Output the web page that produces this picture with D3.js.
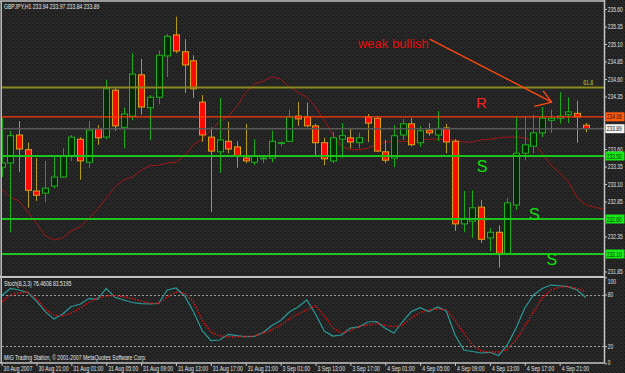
<!DOCTYPE html>
<html><head><meta charset="utf-8">
<script src="https://cdnjs.cloudflare.com/ajax/libs/d3/7.8.5/d3.min.js"></script>
<style>html,body{margin:0;padding:0;background:#222;overflow:hidden}</style>
</head><body><svg id="c" width="625" height="373"></svg>
<script>
// ---------- data ----------
const openP = [233.34,233.40,233.80,233.59,233.00,232.97,233.07,233.20,233.50,233.74,
233.41,233.89,233.77,234.44,233.91,234.07,234.66,234.19,234.34,234.93,
235.23,234.99,234.86,234.27,233.77,233.56,233.71,233.63,233.47,233.41,
233.46,233.47,233.68,233.71,234.07,234.06,233.93,233.69,233.43,233.74,
233.76,233.69,234.06,234.04,233.56,233.47,233.80,233.96,233.69,233.87,
233.80,233.90,233.71,232.53,232.57,232.77,232.33,232.41,232.11,232.80,
233.54,233.64,233.83,234.01,234.04,234.09,234.11,233.94];
const highP = [234.04,233.86,234.00,233.69,233.47,233.43,233.50,233.61,233.80,233.77,
234.00,233.94,234.59,234.47,234.19,234.97,234.89,234.37,235.01,235.24,
235.49,235.17,234.94,234.37,233.91,234.33,233.99,233.71,233.96,233.74,
233.49,233.86,233.71,234.16,234.27,234.26,233.96,233.76,233.84,233.97,
233.89,233.83,234.10,234.07,233.73,233.94,234.03,234.04,233.93,233.97,
234.14,233.96,233.74,233.00,233.01,232.87,232.47,232.51,232.90,234.06,
234.06,234.09,234.20,234.16,234.41,234.34,234.29,233.97];
const lowP = [233.20,232.41,233.27,232.76,232.86,232.84,233.04,233.19,233.43,233.16,
233.33,233.66,233.74,233.86,233.61,234.01,234.09,233.73,234.24,234.63,
234.97,234.40,234.33,233.70,232.70,233.26,233.54,233.33,233.40,233.37,
233.40,233.41,233.64,233.70,233.93,233.91,233.51,233.37,233.40,233.47,
233.61,233.61,233.70,233.56,233.40,233.34,233.73,233.64,233.63,233.79,
233.71,233.54,232.43,232.41,232.33,232.26,232.14,231.91,232.10,232.73,
233.44,233.54,233.77,233.83,233.96,233.97,233.69,233.84];
const closeP = [233.40,233.79,233.60,233.01,232.94,233.04,233.20,233.50,233.77,233.43,
233.87,233.76,234.46,233.93,234.10,234.67,234.20,234.34,234.94,235.21,
235.00,234.80,234.46,233.80,233.57,233.73,233.60,233.50,233.43,233.50,
233.47,233.71,233.69,234.06,234.03,233.93,233.69,233.46,233.76,233.79,
233.70,233.76,233.97,233.57,233.44,233.79,233.96,233.66,233.86,233.83,
233.89,233.70,232.53,232.60,232.76,232.31,232.41,232.11,232.83,233.54,
233.66,233.83,234.04,234.04,234.07,234.13,234.06,233.89];
const maValues = [233.03,232.91,232.86,232.70,232.54,232.36,232.30,232.33,232.43,232.49,
232.61,232.74,232.90,233.06,233.16,233.20,233.30,233.36,233.37,233.40,
233.41,233.51,233.66,233.74,233.87,233.99,234.07,234.21,234.41,234.53,
234.57,234.63,234.60,234.49,234.41,234.34,234.20,234.01,233.80,233.64,
233.59,233.59,233.61,233.67,233.70,233.71,233.71,233.71,233.73,233.74,
233.74,233.73,233.73,233.70,233.70,233.73,233.74,233.76,233.77,233.77,
233.76,233.69,233.54,233.37,233.26,233.13,232.91,232.80,232.77,232.74];
const stochMain = [78.6,87.0,85.2,82.3,72.4,60.0,51.5,57.3,66.0,68.6,
75.3,74.4,87.0,76.7,73.6,70.7,69.5,69.0,69.5,85.2,
87.6,78.3,60.0,38.1,26.5,27.1,33.7,32.1,30.9,31.4,
35.8,44.0,49.8,59.7,65.5,73.6,57.3,37.6,31.7,32.9,
41.0,42.4,48.0,48.6,40.7,35.2,48.6,60.2,64.7,60.2,
65.5,60.8,32.9,15.5,13.7,12.0,12.8,9.1,21.3,41.0,
64.3,79.4,87.0,91.0,90.2,89.1,85.2,76.46];
const stochSignal = [71.3,79.4,81.7,82.9,74.8,62.6,56.2,55.0,58.5,64.0,
70.7,75.9,78.3,78.8,77.4,75.3,72.4,69.8,69.8,77.1,
82.9,81.7,71.6,50.3,36.4,31.7,30.9,30.9,31.2,31.7,
35.2,38.7,44.5,51.5,57.3,62.0,67.2,55.6,41.0,35.2,
38.1,42.8,44.5,46.5,44.0,42.8,44.5,52.7,59.1,62.0,
63.1,62.0,50.3,35.2,21.3,14.3,13.1,13.1,16.0,27.1,
43.4,59.7,75.9,85.2,88.7,89.1,87.0,83.52];
const priceTicks = [231.85,232.10,232.35,232.60,232.85,233.10,233.35,233.60,233.85,234.10,234.35,234.60,234.85,235.10,235.35,235.60];
const timeLabels = ["30 Aug 2007","30 Aug 21:00","31 Aug 01:00","31 Aug 05:00","31 Aug 09:00","31 Aug 13:00","31 Aug 17:00","31 Aug 21:00","3 Sep 01:00","3 Sep 13:00","3 Sep 17:00","4 Sep 01:00","4 Sep 05:00","4 Sep 09:00","4 Sep 13:00","4 Sep 17:00","4 Sep 21:00"];
const timeLabelBars = [0,4,8,12,16,20,24,28,32,36,40,44,48,52,56,60,64];
const fibLevel = 234.48;
const resistanceLevel = 234.06;
const bidLevel = 233.89;
const supportLevels = [233.50,232.60,232.10];
const stochLevels = [20,80];
const stochTicks = [0,20,80,100];
const titleText = "GBPJPY,H1  233.94 233.97 233.84 233.89";
const stochText = "Stoch(8,3,3) 76.4608 83.5195";
const copyrightText = "MIG Trading Station, \u00a9 2001-2007 MetaQuotes Software Corp.";

// ---------- scales ----------
const svg = d3.select('#c');
const x = d3.scaleLinear().domain([0,67]).range([1.6,585.8]);
const y = d3.scaleLinear().domain([232.10,235.60]).range([254,9]);
const ys = d3.scaleLinear().domain([0,100]).range([363.3,277.3]);
const PX0=2, PX1=604.5, PY0=1.5, PY1=276, SY0=278, SY1=363;

const defs = svg.append('defs');
const pat = defs.append('pattern').attr('id','bg').attr('width',4).attr('height',4).attr('patternUnits','userSpaceOnUse');
pat.append('rect').attr('width',4).attr('height',4).attr('fill','#262626');
pat.append('rect').attr('x',0).attr('y',0).attr('width',1).attr('height',1).attr('fill','#141414');
pat.append('rect').attr('x',2).attr('y',2).attr('width',1).attr('height',1).attr('fill','#141414');
pat.append('rect').attr('x',1).attr('y',3).attr('width',1).attr('height',1).attr('fill','#2f2f2f');
defs.append('clipPath').attr('id','cm').append('rect').attr('x',PX0).attr('y',PY0).attr('width',PX1-PX0).attr('height',PY1-PY0);
defs.append('clipPath').attr('id','cs').append('rect').attr('x',PX0).attr('y',SY0).attr('width',PX1-PX0).attr('height',SY1-SY0);

svg.append('rect').attr('width',625).attr('height',373).attr('fill','url(#bg)');

// horizontally condense small MT4-style text (keeps left anchor fixed)
function squeeze(sel,f){
  const k = f||0.73;
  sel.each(function(){
    const s = d3.select(this);
    const x0 = +(s.attr('x')||0);
    s.attr('transform',`translate(${x0*(1-k)},0) scale(${k},1)`);
  });
}

// ---------- main panel ----------
const gm = svg.append('g').attr('clip-path','url(#cm)');
const idx = d3.range(openP.length);

gm.append('path').datum(maValues).attr('fill','none').attr('stroke','#a01818').attr('stroke-width',1)
  .attr('d', d3.line().x((d,i)=>x(i)).y(d=>y(d)));

const cg = gm.selectAll('g.c').data(idx).join('g');
cg.append('line')
  .attr('x1',i=>Math.round(x(i))+0.5).attr('x2',i=>Math.round(x(i))+0.5)
  .attr('y1',i=>y(highP[i])).attr('y2',i=>y(lowP[i]))
  .attr('stroke',i=>closeP[i]>=openP[i]?'#18a818':'#b49a1c').attr('stroke-width',1);
cg.append('rect')
  .attr('x',i=>Math.round(x(i))-2.5).attr('width',6)
  .attr('y',i=>y(Math.max(openP[i],closeP[i])))
  .attr('height',i=>Math.max(0.5,Math.abs(y(openP[i])-y(closeP[i]))))
  .attr('fill',i=>closeP[i]>=openP[i]?'#062a06':'#ff0a00')
  .attr('stroke',i=>closeP[i]>=openP[i]?'#1fb01f':'#d2a41a').attr('stroke-width',1);

function hline(p,color,w){ gm.append('line').attr('x1',PX0).attr('x2',PX1).attr('y1',y(p)).attr('y2',y(p)).attr('stroke',color).attr('stroke-width',w); }
hline(fibLevel,'#8a8a1e',2);
hline(bidLevel,'#585858',1.5);
hline(resistanceLevel,'#ff3a08',1.2);
supportLevels.forEach(p=>hline(p,'#1ec41e',2));

const ann = gm.append('g');
ann.append('text').attr('x',x(40.87)).attr('y',y(235.04)).text('weak bullish')
  .attr('fill','#e01010').attr('font-family','Liberation Sans, Arial').attr('font-size',13);
ann.append('text').attr('x',x(54.4)).attr('y',y(234.18)).text('R')
  .attr('fill','#ff2020').attr('font-family','Liberation Sans, Arial').attr('font-size',15);
[[54.5,233.27],[60.5,232.59],[62.5,231.94]].forEach(d=>{
  ann.append('text').attr('x',x(d[0])).attr('y',y(d[1])).text('S')
   .attr('fill','#10e010').attr('font-family','Liberation Sans, Arial').attr('font-size',16);
});
const arrowCol = '#ff4a10';
ann.append('line').attr('x1',x(49.1)).attr('y1',y(235.17)).attr('x2',x(63.1)).attr('y2',y(234.27)).attr('stroke',arrowCol).attr('stroke-width',1.3);
ann.append('line').attr('x1',x(62.1)).attr('y1',y(234.43)).attr('x2',x(63.1)).attr('y2',y(234.27)).attr('stroke',arrowCol).attr('stroke-width',1.3);
ann.append('line').attr('x1',x(61.1)).attr('y1',y(234.21)).attr('x2',x(63.1)).attr('y2',y(234.27)).attr('stroke',arrowCol).attr('stroke-width',1.3);
ann.append('text').attr('x',x(66.7)).attr('y',y(fibLevel)-2).text('61.8')
  .attr('fill','#c8c830').attr('font-family','Liberation Sans, Arial').attr('font-size',7).call(squeeze);

svg.append('text').attr('x',4).attr('y',9).text(titleText).attr('fill','#e8e8e8')
  .attr('font-family','Liberation Sans, Arial').attr('font-size',7).call(squeeze);

// ---------- stochastic panel ----------
const gs = svg.append('g').attr('clip-path','url(#cs)');
stochLevels.forEach(v=>{
  gs.append('line').attr('x1',PX0).attr('x2',PX1).attr('y1',Math.round(ys(v))+0.5).attr('y2',Math.round(ys(v))+0.5)
   .attr('stroke','#9a9a9a').attr('stroke-width',1).attr('stroke-dasharray','2,2');
});
gs.append('path').datum(stochMain).attr('fill','none').attr('stroke','#2a9a98').attr('stroke-width',1.2)
  .attr('d', d3.line().x((d,i)=>x(i)).y(d=>ys(d)));
gs.append('path').datum(stochSignal).attr('fill','none').attr('stroke','#e01414').attr('stroke-width',1.4)
  .attr('stroke-dasharray','1.5,1.5')
  .attr('d', d3.line().x((d,i)=>x(i)).y(d=>ys(d)));
svg.append('text').attr('x',4).attr('y',286).text(stochText).attr('fill','#e8e8e8')
  .attr('font-family','Liberation Sans, Arial').attr('font-size',7).call(squeeze);
svg.append('text').attr('x',4).attr('y',360).text(copyrightText).attr('fill','#e8e8e8')
  .attr('font-family','Liberation Sans, Arial').attr('font-size',7).call(squeeze);

// ---------- frame ----------
const frame = '#c4c4c4';
svg.append('line').attr('x1',0).attr('x2',PX1).attr('y1',1).attr('y2',1).attr('stroke',frame).attr('stroke-width',1.5);
svg.append('line').attr('x1',1.2).attr('x2',1.2).attr('y1',1).attr('y2',SY1).attr('stroke',frame).attr('stroke-width',1.5);
svg.append('line').attr('x1',0).attr('x2',PX1).attr('y1',277).attr('y2',277).attr('stroke',frame).attr('stroke-width',2);

// ---------- axes ----------
const fontAx = 'Liberation Sans, Arial';
const tagValues = [resistanceLevel,bidLevel].concat(supportLevels);
const visiblePriceTicks = priceTicks.filter(p=>tagValues.every(t=>Math.abs(t-p)>0.07));
const ay = svg.append('g').attr('transform',`translate(${PX1},0)`)
  .call(d3.axisRight(y).tickValues(visiblePriceTicks).tickFormat(d3.format('.2f')).tickSize(2.5).tickPadding(0.8));
ay.select('.domain').remove();
ay.selectAll('line').attr('stroke',frame);
ay.selectAll('text').attr('fill','#e0e0e0').attr('font-family',fontAx).attr('font-size',7).call(squeeze,0.7);

const as = svg.append('g').attr('transform',`translate(${PX1},0)`)
  .call(d3.axisRight(ys).tickValues(stochTicks).tickSize(2.5).tickPadding(0.8));
as.select('.domain').remove();
as.selectAll('line').attr('stroke',frame);
as.selectAll('text').attr('fill','#e0e0e0').attr('font-family',fontAx).attr('font-size',7)
  .attr('dy',d=>d===100?'0.95em':(d===0?'0.1em':'0.32em')).call(squeeze,0.7);

const ax = svg.append('g').attr('transform',`translate(0,${SY1})`)
  .call(d3.axisBottom(x).tickValues(timeLabelBars).tickFormat((d,i)=>timeLabels[i]).tickSize(3).tickPadding(0));
ax.select('.domain').remove();
ax.selectAll('line').attr('stroke',frame);
ax.selectAll('text').attr('fill','#e0e0e0').attr('font-family',fontAx).attr('font-size',7)
  .attr('text-anchor','start').attr('x',1.5).call(squeeze);

svg.append('line').attr('x1',PX1).attr('x2',PX1).attr('y1',0).attr('y2',SY1).attr('stroke',frame).attr('stroke-width',1.5);
svg.append('line').attr('x1',0).attr('x2',PX1).attr('y1',SY1).attr('y2',SY1).attr('stroke',frame).attr('stroke-width',1.5);

// ---------- price tags ----------
const tags = [[resistanceLevel,'#ff5a10','#2a1000'],[bidLevel,'#f4f4f4','#101010']].concat(supportLevels.map(p=>[p,'#18e818','#063006']));
tags.forEach(t=>{
  const g = svg.append('g');
  g.append('rect').attr('x',PX1+1).attr('y',y(t[0])-4.5).attr('width',19).attr('height',9).attr('fill',t[1]);
  g.append('text').attr('x',PX1+2.3).attr('y',y(t[0])+2.6).text(d3.format('.2f')(t[0]))
    .attr('fill',t[2]).attr('font-family',fontAx).attr('font-size',7).call(squeeze,0.7);
});
</script></body></html>
